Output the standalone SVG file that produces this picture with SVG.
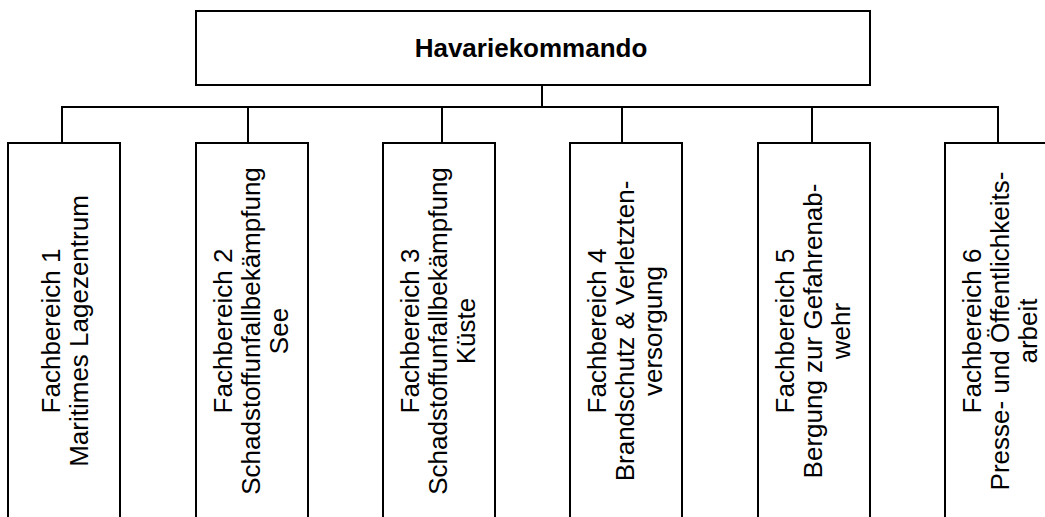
<svg xmlns="http://www.w3.org/2000/svg" width="1045" height="517" viewBox="0 0 1045 517">
<style>
.box{fill:#fff;stroke:#000;stroke-width:2}
.ln{stroke:#000;stroke-width:2;fill:none}
.t{font-family:"Liberation Sans",Arial,sans-serif;font-size:26px;fill:#000;text-anchor:middle}
.h{font-family:"Liberation Sans",Arial,sans-serif;font-size:26px;font-weight:bold;fill:#000;text-anchor:middle}
</style>
<rect width="1045" height="517" fill="#fff"/>
<g id="connectors">
<path class="ln" d="M542,85V107M61,107H999M62,107V143M248,107V143M442,107V143M622,107V143M812,107V143M998,107V143"/>
</g>
<g id="n0"><rect class="box" x="196" y="11" width="674" height="74"/><text class="h" x="531" y="57">Havariekommando</text></g>
<g id="n1"><rect class="box" x="8" y="143" width="112" height="390"/>
<text class="t" transform="translate(64,331) rotate(-90)"><tspan x="0" y="-4">Fachbereich 1</tspan><tspan x="0" y="24">Maritimes Lagezentrum</tspan></text></g>
<g id="n2"><rect class="box" x="196" y="143" width="112" height="390"/>
<text class="t" transform="translate(252,331) rotate(-90)"><tspan x="0" y="-20">Fachbereich 2</tspan><tspan x="0" y="8">Schadstoffunfallbekämpfung</tspan><tspan x="0" y="36">See</tspan></text></g>
<g id="n3"><rect class="box" x="383" y="143" width="112" height="390"/>
<text class="t" transform="translate(439,331) rotate(-90)"><tspan x="0" y="-20">Fachbereich 3</tspan><tspan x="0" y="8">Schadstoffunfallbekämpfung</tspan><tspan x="0" y="36">Küste</tspan></text></g>
<g id="n4"><rect class="box" x="570" y="143" width="112" height="390"/>
<text class="t" transform="translate(626,331) rotate(-90)"><tspan x="0" y="-20">Fachbereich 4</tspan><tspan x="0" y="8">Brandschutz &amp; Verletzten-</tspan><tspan x="0" y="36">versorgung</tspan></text></g>
<g id="n5"><rect class="box" x="758" y="143" width="112" height="390"/>
<text class="t" transform="translate(814,331) rotate(-90)"><tspan x="0" y="-20">Fachbereich 5</tspan><tspan x="0" y="8">Bergung zur Gefahrenab-</tspan><tspan x="0" y="36">wehr</tspan></text></g>
<g id="n6"><rect class="box" x="945" y="143" width="112" height="390"/>
<text class="t" transform="translate(1001,331) rotate(-90)"><tspan x="0" y="-20">Fachbereich 6</tspan><tspan x="0" y="8">Presse- und Öffentlichkeits-</tspan><tspan x="0" y="36">arbeit</tspan></text></g>
</svg>
